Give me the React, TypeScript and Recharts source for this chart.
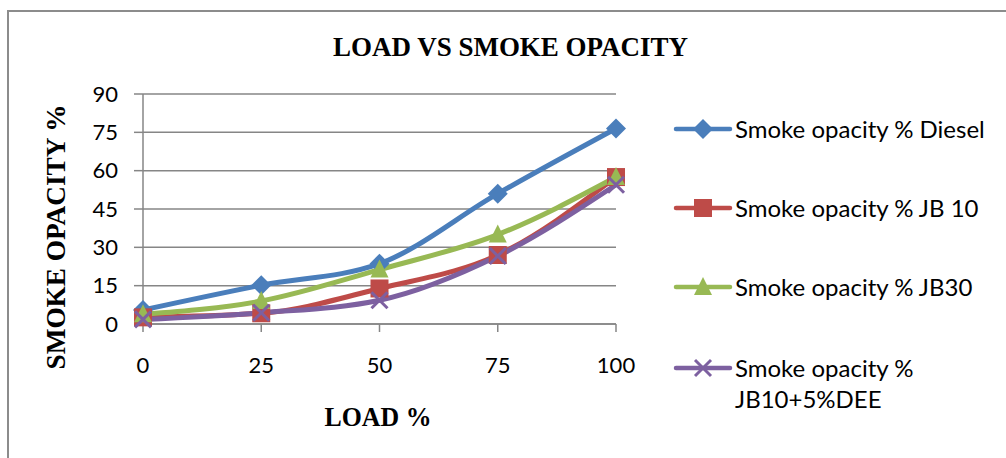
import { LineChart, Line, XAxis, YAxis, CartesianGrid } from 'recharts'

const loads = [0, 25, 50, 75, 100]
const diesel = [5.5, 15.2, 23.6, 51, 76.5]
const jb10 = [2.6, 4.2, 13.9, 27, 57.5]
const jb30 = [3.8, 9, 21.3, 35, 57.5]
const jb10dee = [1.8, 4.4, 9.3, 26.6, 54.5]
const yTicks = [0, 15, 30, 45, 60, 75, 90]

const seriesNames = [
    'Smoke opacity % Diesel',
    'Smoke opacity % JB 10',
    'Smoke opacity % JB30',
    'Smoke opacity % JB10+5%DEE',
]
const colors = ['#4A7EBB', '#BE4B48', '#98B954', '#7D60A0']
const keys = ['diesel', 'jb10', 'jb30', 'jb10dee']

const data = loads.map((load, i) => ({
    load,
    diesel: diesel[i],
    jb10: jb10[i],
    jb30: jb30[i],
    jb10dee: jb10dee[i],
}))

const GRID = '#868686'
const TICK_FONT = 'Lato, "Liberation Sans", sans-serif'
const SERIF = '"Liberation Serif", "Times New Roman", serif'

function Marker({ kind, cx, cy, color }: { kind: number; cx: number; cy: number; color: string }) {
    if (cx == null || cy == null) return null
    if (kind === 0) {
        const r = 10
        return <polygon points={`${cx},${cy - r} ${cx + r},${cy} ${cx},${cy + r} ${cx - r},${cy}`} fill={color} />
    }
    if (kind === 1) {
        return <rect x={cx - 9} y={cy - 9} width={18} height={18} fill={color} />
    }
    if (kind === 2) {
        return <polygon points={`${cx},${cy - 10} ${cx + 9},${cy + 8} ${cx - 9},${cy + 8}`} fill={color} />
    }
    return (
        <g stroke={color} strokeWidth={3}>
            <line x1={cx - 8} y1={cy - 8} x2={cx + 8} y2={cy + 8} />
            <line x1={cx - 8} y1={cy + 8} x2={cx + 8} y2={cy - 8} />
        </g>
    )
}

function LegendBox() {
    const rows = [129, 208, 287, 368]
    return (
        <svg width={346} height={330} style={{ position: 'absolute', left: 660, top: 100, overflow: 'visible' }}>
            {seriesNames.map((name, i) => {
                const y = rows[i] - 100
                const lines = i === 3 ? ['Smoke opacity %', 'JB10+5%DEE'] : [name]
                return (
                    <g key={name}>
                        <line x1={16} y1={y} x2={70} y2={y} stroke={colors[i]} strokeWidth={4.5} strokeLinecap="round" />
                        <Marker kind={i} cx={43} cy={y} color={colors[i]} />
                        {lines.map((t, j) => (
                            <text key={t} x={75} y={y + 9 + j * 31} fontSize={24} fontFamily={TICK_FONT} fill="#000">
                                {t}
                            </text>
                        ))}
                    </g>
                )
            })}
        </svg>
    )
}

export default function App() {
    return (
        <div style={{ position: 'absolute', left: 0, top: 0, width: 1006, height: 458, background: '#fff', overflow: 'hidden' }}>
            <div
                style={{
                    position: 'absolute',
                    left: 7,
                    top: 10,
                    width: 1010,
                    height: 460,
                    border: '2px solid #8c8c8c',
                    boxSizing: 'border-box',
                }}
            />
            <svg width={1006} height={458} style={{ position: 'absolute', left: 0, top: 0 }}>
                <text
                    x={333}
                    y={56}
                    fontSize={28}
                    fontWeight="bold"
                    fontFamily={SERIF}
                    textLength={355}
                    lengthAdjust="spacingAndGlyphs"
                >
                    LOAD VS SMOKE OPACITY
                </text>
                <text
                    x={378}
                    y={426}
                    textAnchor="middle"
                    fontSize={27}
                    fontWeight="bold"
                    fontFamily={SERIF}
                    textLength={107}
                    lengthAdjust="spacingAndGlyphs"
                >
                    LOAD %
                </text>
                <text
                    transform="translate(65, 237) rotate(-90)"
                    textAnchor="middle"
                    fontSize={27}
                    fontWeight="bold"
                    fontFamily={SERIF}
                    textLength={265}
                    lengthAdjust="spacingAndGlyphs"
                >
                    SMOKE OPACITY %
                </text>
            </svg>
            <div style={{ position: 'absolute', left: 0, top: 0 }}>
                <LineChart width={1006} height={458} data={data} margin={{ top: 94, right: 390, bottom: 84, left: 83 }}>
                    <CartesianGrid horizontal vertical={false} stroke={GRID} strokeWidth={1.5} />
                    <XAxis
                        dataKey="load"
                        type="number"
                        domain={[0, 100]}
                        ticks={loads}
                        height={50}
                        stroke={GRID}
                        strokeWidth={1.5}
                        tickSize={8}
                        tickMargin={25}
                        tick={{ fill: '#000', fontSize: 22, fontFamily: TICK_FONT }}
                    />
                    <YAxis
                        type="number"
                        domain={[0, 90]}
                        ticks={yTicks}
                        width={60}
                        stroke={GRID}
                        strokeWidth={1.5}
                        tickSize={9}
                        tickMargin={16}
                        tick={{ fill: '#000', fontSize: 22, fontFamily: TICK_FONT }}
                    />
                    {keys.map((k, i) => (
                        <Line
                            key={k}
                            dataKey={k}
                            name={seriesNames[i]}
                            type="monotone"
                            stroke={colors[i]}
                            strokeWidth={5}
                            isAnimationActive={false}
                            dot={(p: any) => <Marker key={`${k}-${p.index}`} kind={i} cx={p.cx} cy={p.cy} color={colors[i]} />}
                            activeDot={false}
                        />
                    ))}
                </LineChart>
            </div>
            <LegendBox />
        </div>
    )
}
